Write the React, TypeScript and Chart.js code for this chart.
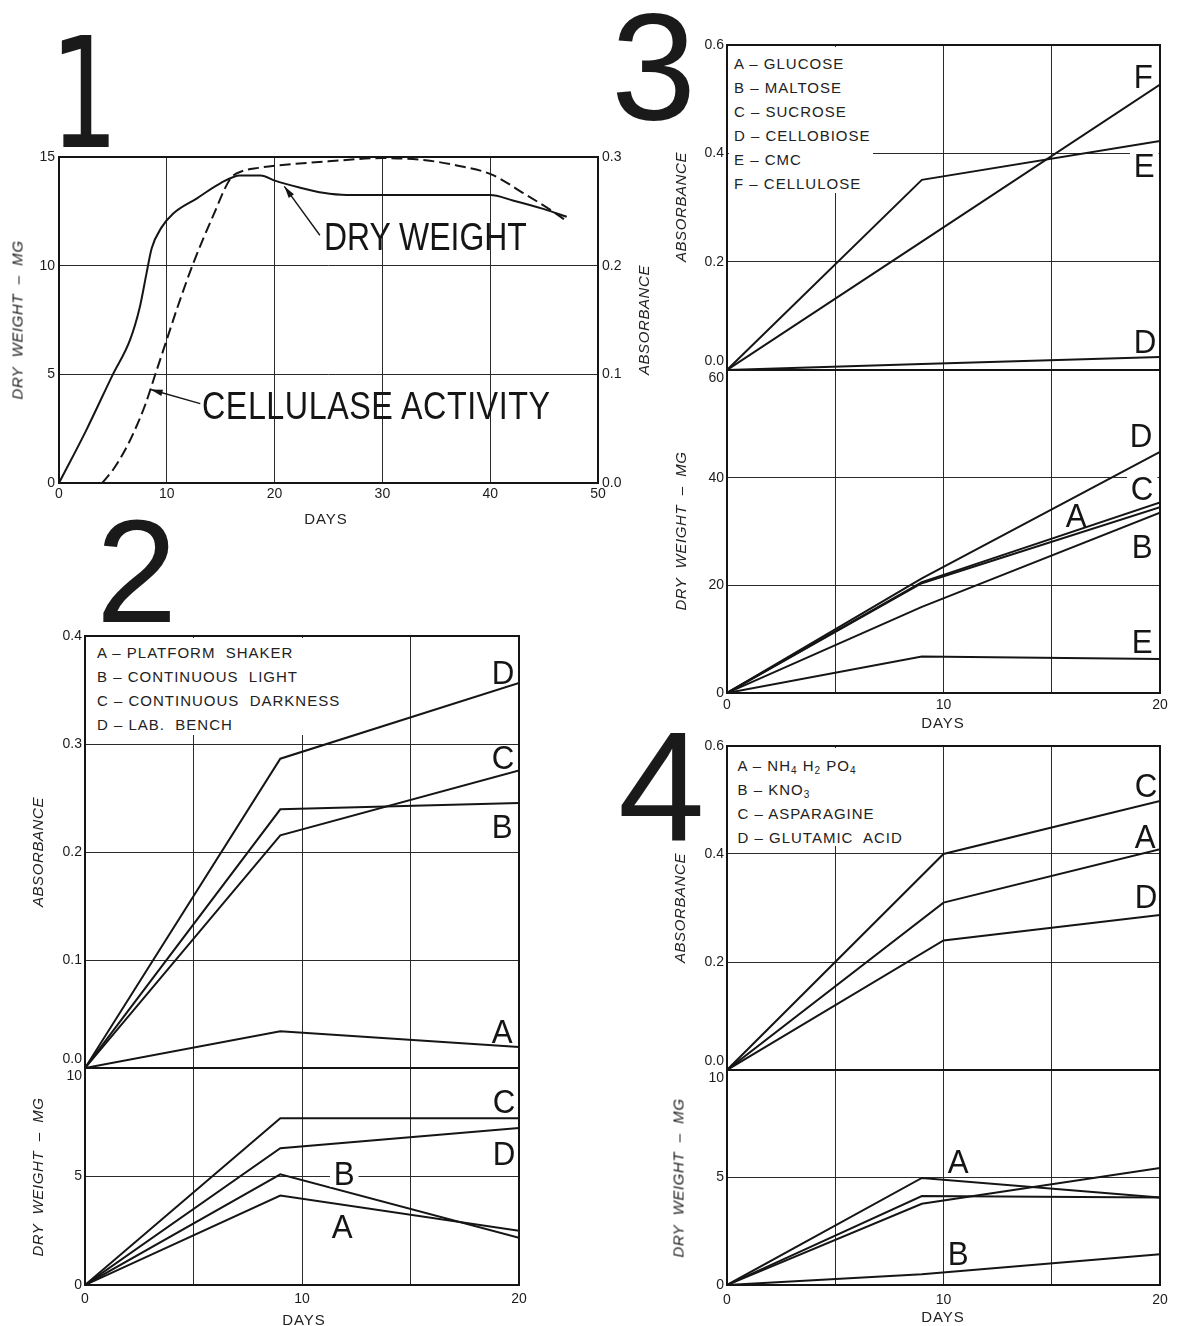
import React, { useEffect, useRef } from 'react';
import { Chart, registerables } from 'chart.js';

Chart.register(...registerables);

// ---------------- DATA ----------------
// Panel 1 : dry weight (mg, left axis) and cellulase activity (absorbance, right axis) vs days
const p1DryDays = [0, 2.5, 5, 6.6, 7.5, 8.1, 8.6, 9.5, 10.6, 12.8, 15, 16.8, 18.7, 20.1, 22.3, 24.5, 26.7, 30, 35, 40, 42.1, 45, 47.1];
const p1DryWeight = [0, 2.4, 5.0, 6.6, 8.1, 9.6, 10.8, 11.75, 12.4, 13.1, 13.8, 14.15, 14.15, 13.9, 13.6, 13.35, 13.25, 13.25, 13.25, 13.25, 13.0, 12.6, 12.25];
const p1CelDays = [4, 5, 6, 7, 8, 9, 10, 11, 12.45, 14.3, 15.9, 17, 18.5, 20.1, 25, 30, 34, 37, 40.1, 43.2, 45.8, 47.1];
const p1Cellulase = [0, 0.012, 0.028, 0.048, 0.072, 0.102, 0.132, 0.162, 0.202, 0.246, 0.28, 0.287, 0.29, 0.292, 0.296, 0.299, 0.297, 0.292, 0.284, 0.266, 0.25, 0.241];
const p1XTicks = [0, 10, 20, 30, 40, 50];
const p1XLabels = ['0', '10', '20', '30', '40', '50'];
const p1YTicks = [0, 5, 10, 15];
const p1YLabels = ['0', '5', '10', '15'];
const p1Y2Ticks = [0, 0.1, 0.2, 0.3];
const p1Y2Labels = ['0.0', '0.1', '0.2', '0.3'];

// common day axis for panels 2-4
const days20Ticks = [0, 5, 10, 15, 20];
const days20Labels = ['0', '', '10', '', '20'];

// Panel 2
const p2AbsDays = [0, 9, 20];
const p2AbsA = [0, 0.034, 0.0195];
const p2AbsB = [0, 0.2395, 0.2454];
const p2AbsC = [0, 0.2154, 0.2756];
const p2AbsD = [0, 0.2864, 0.3565];
const p2DwDays = [0, 9, 20];
const p2DwA = [0, 4.12, 2.5];
const p2DwB = [0, 5.1, 2.18];
const p2DwC = [0, 7.69, 7.69];
const p2DwD = [0, 6.3, 7.23];
const p2AbsTicks = [0, 0.1, 0.2, 0.3, 0.4];
const p2AbsLabels: (string | string[])[] = [['0.0', ''], '0.1', '0.2', '0.3', '0.4'];
const p2DwTicks = [0, 5, 10];
const p2DwLabels: (string | string[])[] = ['0', '5', ['', '10']];

// Panel 3
const p3AbsDays = [0, 9, 20];
const p3AbsA = [0, 0, 0];
const p3AbsB = [0, 0, 0];
const p3AbsC = [0, 0, 0];
const p3AbsD = [0, 0.011, 0.024];
const p3AbsE = [0, 0.351, 0.423];
const p3AbsF = [0, 0.237, 0.527];
const p3DwDays = [0, 9, 20];
const p3DwA = [0, 20.4, 34.5];
const p3DwB = [0, 16.0, 33.5];
const p3DwC = [0, 20.6, 35.4];
const p3DwD = [0, 21.3, 44.8];
const p3DwE = [0, 6.8, 6.3];
const p3AbsTicks = [0, 0.2, 0.4, 0.6];
const p3AbsLabels: (string | string[])[] = [['0.0', ''], '0.2', '0.4', '0.6'];
const p3DwTicks = [0, 20, 40, 60];
const p3DwLabels: (string | string[])[] = ['0', '20', '40', ['', '60']];

// Panel 4
const p4AbsDays = [0, 10, 20];
const p4AbsA = [0, 0.31, 0.409];
const p4AbsB = [0, 0, 0];
const p4AbsC = [0, 0.4, 0.498];
const p4AbsD = [0, 0.24, 0.287];
const p4DwDays = [0, 9, 20];
const p4DwA = [0, 4.98, 4.07];
const p4DwB = [0, 0.5, 1.43];
const p4DwC = [0, 3.78, 5.44];
const p4DwD = [0, 4.14, 4.07];
const p4AbsTicks = [0, 0.2, 0.4, 0.6];
const p4AbsLabels: (string | string[])[] = [['0.0', ''], '0.2', '0.4', '0.6'];
const p4DwTicks = [0, 5, 10];
const p4DwLabels: (string | string[])[] = ['0', '5', ['', '10']];

// annotation arrows of panel 1 (data coordinates: day, dry weight)
const p1Arrows = [
  { from: [24.2, 11.4], to: [20.9, 13.65] },
  { from: [13.1, 3.65], to: [8.5, 4.3] },
];

// legends
const p2Legend = ['A – PLATFORM  SHAKER', 'B – CONTINUOUS  LIGHT', 'C – CONTINUOUS  DARKNESS', 'D – LAB.  BENCH'];
const p3Legend = ['A – GLUCOSE', 'B – MALTOSE', 'C – SUCROSE', 'D – CELLOBIOSE', 'E – CMC', 'F – CELLULOSE'];

// ---------------- STYLE ----------------
const FONT = '"Liberation Sans", Arial, Helvetica, sans-serif';
const INK = '#151515';
const GRID = '#2a2a2a';

type AxisSpec = { min: number; max: number; ticks: number[]; labels: (string | string[])[]; show: boolean; grid: boolean };
type LineSpec = { days: number[]; vals: number[]; dash?: number[]; axis?: string; smooth?: boolean };
type ChartSpec = {
  left: number; top: number; width: number; height: number;
  padL: number; padR: number; padT: number; padB: number;
  xPad: number; yPad: number;
  x: AxisSpec; y: AxisSpec; y2?: AxisSpec;
  lines: LineSpec[];
  arrows?: { from: number[]; to: number[] }[];
};

const framePlugin = {
  id: 'frame',
  afterDatasetsDraw(chart: any) {
    const { ctx, chartArea: a } = chart;
    ctx.save();
    ctx.strokeStyle = INK;
    ctx.lineWidth = 2;
    ctx.strokeRect(a.left, a.top, a.right - a.left, a.bottom - a.top);
    ctx.restore();
  },
};

function makeArrowPlugin(arrows: { from: number[]; to: number[] }[]) {
  return {
    id: 'arrows',
    afterDatasetsDraw(chart: any) {
      if (!arrows.length) return;
      const { ctx, scales } = chart;
      ctx.save();
      ctx.strokeStyle = INK;
      ctx.fillStyle = INK;
      ctx.lineWidth = 1.4;
      for (const a of arrows) {
        const x1 = scales.x.getPixelForValue(a.from[0]);
        const y1 = scales.y.getPixelForValue(a.from[1]);
        const x2 = scales.x.getPixelForValue(a.to[0]);
        const y2 = scales.y.getPixelForValue(a.to[1]);
        const ang = Math.atan2(y2 - y1, x2 - x1);
        ctx.beginPath();
        ctx.moveTo(x1, y1);
        ctx.lineTo(x2, y2);
        ctx.stroke();
        const L = 12, w = 3.2;
        const bx = x2 - L * Math.cos(ang), by = y2 - L * Math.sin(ang);
        ctx.beginPath();
        ctx.moveTo(x2, y2);
        ctx.lineTo(bx + w * Math.sin(ang), by - w * Math.cos(ang));
        ctx.lineTo(bx - w * Math.sin(ang), by + w * Math.cos(ang));
        ctx.closePath();
        ctx.fill();
      }
      ctx.restore();
    },
  };
}

function scaleOf(a: AxisSpec, kind: 'x' | 'y' | 'y2', size: number, pad: number) {
  const s: any = {
    type: 'linear',
    min: a.min,
    max: a.max,
    afterBuildTicks: (ax: any) => {
      ax.ticks = a.ticks.map((v) => ({ value: v }));
    },
    grid: { display: a.grid, color: GRID, lineWidth: 1, drawTicks: false },
    border: { display: false },
    ticks: {
      display: a.show,
      padding: pad,
      color: '#1c1c1c',
      autoSkip: false,
      maxRotation: 0,
      minRotation: 0,
      font: { family: FONT, size: 14 },
      callback: (_v: any, i: number) => a.labels[i],
    },
  };
  if (kind === 'x') {
    s.position = 'bottom';
    s.afterFit = (ax: any) => { ax.height = size; };
  } else {
    s.position = kind === 'y' ? 'left' : 'right';
    s.afterFit = (ax: any) => { ax.width = size; };
  }
  return s;
}

function buildConfig(s: ChartSpec): any {
  const scales: any = {
    x: scaleOf(s.x, 'x', s.padB, s.xPad),
    y: scaleOf(s.y, 'y', s.padL, s.yPad),
  };
  if (s.y2) scales.y2 = scaleOf(s.y2, 'y2', s.padR, s.yPad);
  return {
    type: 'line',
    data: {
      datasets: s.lines.map((l) => ({
        data: l.days.map((d, i) => ({ x: d, y: l.vals[i] })),
        borderColor: INK,
        borderWidth: 2,
        borderDash: l.dash || [],
        pointRadius: 0,
        fill: false,
        tension: 0,
        cubicInterpolationMode: l.smooth ? 'monotone' : 'default',
        yAxisID: l.axis || 'y',
        xAxisID: 'x',
      })),
    },
    options: {
      responsive: false,
      animation: false,
      devicePixelRatio: 1,
      events: [],
      layout: { padding: { left: 0, top: s.padT, right: s.y2 ? 0 : s.padR, bottom: 0 } },
      plugins: { legend: { display: false }, tooltip: { enabled: false }, title: { display: false } },
      scales,
    },
    plugins: [framePlugin, makeArrowPlugin(s.arrows || [])],
  };
}

function ChartBox({ spec }: { spec: ChartSpec }) {
  const ref = useRef<HTMLCanvasElement>(null);
  const W = spec.width + spec.padL + spec.padR;
  const H = spec.height + spec.padT + spec.padB;
  useEffect(() => {
    const chart = new Chart(ref.current as HTMLCanvasElement, buildConfig(spec));
    return () => chart.destroy();
  }, []);
  return (
    <canvas
      ref={ref}
      width={W}
      height={H}
      style={{ position: 'absolute', left: spec.left - spec.padL, top: spec.top - spec.padT, width: W, height: H }}
    />
  );
}

const absAxis = (ticks: number[], labels: (string | string[])[], max: number): AxisSpec => ({ min: 0, max, ticks, labels, show: true, grid: true });
const hiddenDays: AxisSpec = { min: 0, max: 20, ticks: days20Ticks, labels: days20Labels, show: false, grid: true };
const shownDays: AxisSpec = { min: 0, max: 20, ticks: days20Ticks, labels: days20Labels, show: true, grid: true };

const specs: ChartSpec[] = [
  {
    left: 59, top: 157, width: 539, height: 326, padL: 59, padR: 45, padT: 14, padB: 30, xPad: 3, yPad: 4,
    x: { min: 0, max: 50, ticks: p1XTicks, labels: p1XLabels, show: true, grid: true },
    y: { min: 0, max: 15, ticks: p1YTicks, labels: p1YLabels, show: true, grid: true },
    y2: { min: 0, max: 0.3, ticks: p1Y2Ticks, labels: p1Y2Labels, show: true, grid: false },
    lines: [
      { days: p1DryDays, vals: p1DryWeight, smooth: true },
      { days: p1CelDays, vals: p1Cellulase, smooth: true, dash: [11, 5], axis: 'y2' },
    ],
    arrows: p1Arrows,
  },
  {
    left: 85, top: 636, width: 434, height: 432, padL: 50, padR: 20, padT: 14, padB: 24, xPad: 6, yPad: 3,
    x: hiddenDays, y: absAxis(p2AbsTicks, p2AbsLabels, 0.4),
    lines: [
      { days: p2AbsDays, vals: p2AbsA }, { days: p2AbsDays, vals: p2AbsB },
      { days: p2AbsDays, vals: p2AbsC }, { days: p2AbsDays, vals: p2AbsD },
    ],
  },
  {
    left: 85, top: 1068, width: 434, height: 217, padL: 50, padR: 20, padT: 24, padB: 30, xPad: 6, yPad: 3,
    x: shownDays, y: absAxis(p2DwTicks, p2DwLabels, 10),
    lines: [
      { days: p2DwDays, vals: p2DwA }, { days: p2DwDays, vals: p2DwB },
      { days: p2DwDays, vals: p2DwC }, { days: p2DwDays, vals: p2DwD },
    ],
  },
  {
    left: 727, top: 45, width: 433, height: 325, padL: 50, padR: 20, padT: 14, padB: 24, xPad: 4, yPad: 3,
    x: hiddenDays, y: absAxis(p3AbsTicks, p3AbsLabels, 0.6),
    lines: [
      { days: p3AbsDays, vals: p3AbsA }, { days: p3AbsDays, vals: p3AbsB }, { days: p3AbsDays, vals: p3AbsC },
      { days: p3AbsDays, vals: p3AbsD }, { days: p3AbsDays, vals: p3AbsE }, { days: p3AbsDays, vals: p3AbsF },
    ],
  },
  {
    left: 727, top: 370, width: 433, height: 323, padL: 50, padR: 20, padT: 24, padB: 30, xPad: 4, yPad: 3,
    x: shownDays, y: absAxis(p3DwTicks, p3DwLabels, 60),
    lines: [
      { days: p3DwDays, vals: p3DwA }, { days: p3DwDays, vals: p3DwB }, { days: p3DwDays, vals: p3DwC },
      { days: p3DwDays, vals: p3DwD }, { days: p3DwDays, vals: p3DwE },
    ],
  },
  {
    left: 727, top: 746, width: 433, height: 324, padL: 50, padR: 20, padT: 14, padB: 24, xPad: 6, yPad: 3,
    x: hiddenDays, y: absAxis(p4AbsTicks, p4AbsLabels, 0.6),
    lines: [
      { days: p4AbsDays, vals: p4AbsA }, { days: p4AbsDays, vals: p4AbsB },
      { days: p4AbsDays, vals: p4AbsC }, { days: p4AbsDays, vals: p4AbsD },
    ],
  },
  {
    left: 727, top: 1070, width: 433, height: 215, padL: 50, padR: 20, padT: 24, padB: 30, xPad: 7, yPad: 3,
    x: shownDays, y: absAxis(p4DwTicks, p4DwLabels, 10),
    lines: [
      { days: p4DwDays, vals: p4DwA }, { days: p4DwDays, vals: p4DwB },
      { days: p4DwDays, vals: p4DwC }, { days: p4DwDays, vals: p4DwD },
    ],
  },
];

// ---------------- TEXT OVERLAYS ----------------
function VText({ cx, cy, text }: { cx: number; cy: number; text: string }) {
  return (
    <div
      style={{
        position: 'absolute', left: cx, top: cy, transform: 'translate(-50%, -50%) rotate(-90deg)',
        whiteSpace: 'pre', fontStyle: 'italic', fontSize: 15, letterSpacing: '0.6px', lineHeight: 1, color: '#222',
      }}
    >
      {text}
    </div>
  );
}

function Days({ cx, cy }: { cx: number; cy: number }) {
  return (
    <div
      style={{
        position: 'absolute', left: cx, top: cy, transform: 'translate(-50%, -50%)',
        fontSize: 15, letterSpacing: '1px', lineHeight: 1, color: '#222',
      }}
    >
      DAYS
    </div>
  );
}

function Letter({ ch, x, capTop, bg }: { ch: string; x: number; capTop: number; bg?: boolean }) {
  const f = 34, L = 28;
  const off = (L - 1.117 * f) / 2 + 0.905 * f - 0.716 * f;
  return (
    <div
      style={{
        position: 'absolute', left: x - 4, top: capTop - off, height: L, lineHeight: L + 'px', fontSize: f,
        padding: '0 4px', background: bg ? '#fff' : 'transparent', transform: 'scaleX(0.92)', transformOrigin: 'left top', color: INK,
      }}
    >
      {ch}
    </div>
  );
}

function Big({ ch, left, top, size, family, sx = 1 }: { ch: string; left: number; top: number; size: number; family: string; sx?: number }) {
  return (
    <div
      style={{
        position: 'absolute', left, top, fontSize: size, lineHeight: 1, fontFamily: family, color: '#1a1a1a',
        transform: `scaleX(${sx})`, transformOrigin: 'left top',
      }}
    >
      {ch}
    </div>
  );
}

function Legend({ left, top, width, height, padTop, padLeft, rows }: { left: number; top: number; width: number; height: number; padTop: number; padLeft: number; rows: React.ReactNode[] }) {
  return (
    <div
      style={{
        position: 'absolute', left, top, width, height, boxSizing: 'border-box', background: '#fff',
        paddingTop: padTop, paddingLeft: padLeft, fontSize: 15, letterSpacing: '1px', lineHeight: '24px',
        color: '#222', whiteSpace: 'pre',
      }}
    >
      {rows.map((r, i) => (
        <div key={i} style={{ height: 24 }}>{r}</div>
      ))}
    </div>
  );
}

const sub = (t: string) => <span style={{ fontSize: 10, verticalAlign: '-3px', lineHeight: 0 }}>{t}</span>;

const p4Legend: React.ReactNode[] = [
  <>A – NH{sub('4')} H{sub('2')} PO{sub('4')}</>,
  <>B – KNO{sub('3')}</>,
  'C – ASPARAGINE',
  'D – GLUTAMIC  ACID',
];

const letters = [
  { ch: 'D', x: 492, capTop: 659 },
  { ch: 'C', x: 492, capTop: 744 },
  { ch: 'B', x: 492, capTop: 813 },
  { ch: 'A', x: 492, capTop: 1018 },
  { ch: 'C', x: 493, capTop: 1088 },
  { ch: 'D', x: 493, capTop: 1140 },
  { ch: 'B', x: 334, capTop: 1160, bg: true },
  { ch: 'A', x: 332, capTop: 1213 },
  { ch: 'F', x: 1134, capTop: 63 },
  { ch: 'E', x: 1134, capTop: 152, bg: true },
  { ch: 'D', x: 1134, capTop: 328 },
  { ch: 'D', x: 1130, capTop: 422 },
  { ch: 'C', x: 1131, capTop: 475, bg: true },
  { ch: 'A', x: 1066, capTop: 502 },
  { ch: 'B', x: 1132, capTop: 533 },
  { ch: 'E', x: 1132, capTop: 628 },
  { ch: 'C', x: 1135, capTop: 772 },
  { ch: 'A', x: 1135, capTop: 823 },
  { ch: 'D', x: 1135, capTop: 883 },
  { ch: 'A', x: 948, capTop: 1148 },
  { ch: 'B', x: 948, capTop: 1240 },
];

export default function App() {
  return (
    <div
      style={{
        position: 'absolute', left: 0, top: 0, width: 1183, height: 1326, background: '#fff',
        overflow: 'hidden', fontFamily: FONT, color: INK,
      }}
    >
      {specs.map((s, i) => (
        <ChartBox key={i} spec={s} />
      ))}

      <Big ch="1" left={50} top={17} size={154} family='"DejaVu Sans", sans-serif' sx={0.7} />
      <Big ch="2" left={96} top={499} size={146} family={FONT} />
      <Big ch="3" left={611} top={-10} size={153} family={FONT} />
      <Big ch="4" left={618} top={708} size={156} family={FONT} />

      <VText cx={17} cy={320} text={'DRY  WEIGHT  –  MG'} />
      <VText cx={643} cy={320} text="ABSORBANCE" />
      <VText cx={37} cy={852} text="ABSORBANCE" />
      <VText cx={37} cy={1177} text={'DRY  WEIGHT  –  MG'} />
      <VText cx={680} cy={207} text="ABSORBANCE" />
      <VText cx={680} cy={531} text={'DRY  WEIGHT  –  MG'} />
      <VText cx={679} cy={908} text="ABSORBANCE" />
      <VText cx={678} cy={1178} text={'DRY  WEIGHT  –  MG'} />

      <Days cx={326} cy={518} />
      <Days cx={304} cy={1319} />
      <Days cx={943} cy={722} />
      <Days cx={943} cy={1316} />

      <div style={{ position: 'absolute', left: 324, top: 218, fontSize: 38, lineHeight: 1, transform: 'scaleX(0.84)', transformOrigin: 'left top', whiteSpace: 'pre' }}>
        DRY WEIGHT
      </div>
      <div style={{ position: 'absolute', left: 202, top: 387, fontSize: 38, lineHeight: 1, letterSpacing: '0.6px', transform: 'scaleX(0.85)', transformOrigin: 'left top', whiteSpace: 'pre' }}>
        CELLULASE ACTIVITY
      </div>

      <Legend left={87} top={638} width={258} height={97} padTop={2.5} padLeft={10} rows={p2Legend} />
      <Legend left={729} top={47} width={144} height={146} padTop={4.5} padLeft={5} rows={p3Legend} />
      <Legend left={729} top={748} width={183} height={98} padTop={5.5} padLeft={8.5} rows={p4Legend} />

      {letters.map((l, i) => (
        <Letter key={i} ch={l.ch} x={l.x} capTop={l.capTop} bg={l.bg} />
      ))}
    </div>
  );
}
